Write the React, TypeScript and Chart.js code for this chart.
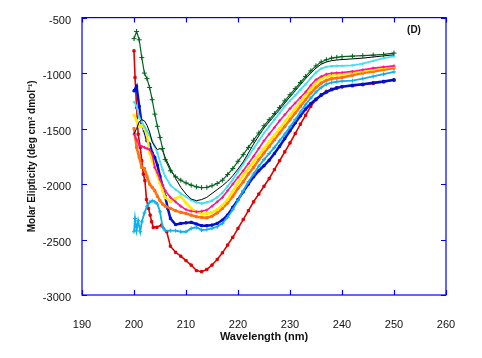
import React, { useEffect, useRef } from "react";
import { Chart, registerables } from "chart.js";

Chart.register(...registerables);

// Common 1-nm wavelength grid used by every series from 207 nm onward
const COMMON_WL = [
  207, 208, 209, 210, 211, 212, 213, 214, 215, 216, 217, 218, 219, 220, 221, 222, 223, 224,
  225, 226, 227, 228, 229, 230, 231, 232, 233, 234, 235, 236, 237, 238, 239, 240, 242, 244,
  246, 248, 250,
];
const HALF_WL = [200, 200.5, 201, 201.5, 202, 202.5, 203, 203.5, 204, 204.5, 205, 205.5, 206];

const X_TICKS = [190, 200, 210, 220, 230, 240, 250, 260];
const Y_TICKS = [-3000, -2500, -2000, -1500, -1000, -500];

// Dark green
const greenLeftWl = HALF_WL;
const greenLeft = [-690, -625, -700, -860, -1000, -1050, -1130, -1240, -1370, -1480, -1580, -1680, -1780];
const greenRight = [
  -1880, -1935, -1965, -1990, -2010, -2025, -2032, -2030, -2015, -1995, -1965, -1915, -1860, -1795,
  -1735, -1670, -1605, -1540, -1475, -1420, -1365, -1310, -1250, -1195, -1140, -1085, -1030, -980,
  -935, -900, -880, -865, -858, -852, -848, -843, -838, -832, -820,
];

// Black
const blackLeftWl = HALF_WL;
const blackLeft = [-1550, -1500, -1440, -1420, -1430, -1470, -1530, -1620, -1660, -1690, -1680, -1700, -1760];
const blackRight = [
  -1860, -1950, -2030, -2090, -2135, -2150, -2140, -2120, -2085, -2050, -2015, -1975, -1925, -1865,
  -1800, -1720, -1640, -1565, -1495, -1440, -1385, -1330, -1270, -1215, -1160, -1105, -1050, -1000,
  -955, -920, -900, -888, -882, -878, -872, -865, -855, -845, -835,
];

// Turquoise
const cyanLeftWl = HALF_WL;
const cyanLeft = [-1260, -1300, -1400, -1440, -1480, -1520, -1560, -1610, -1660, -1720, -1800, -1870, -1930];
const cyanRight = [
  -2010, -2050, -2085, -2115, -2145, -2165, -2175, -2165, -2150, -2120, -2080, -2020, -1960, -1890,
  -1820, -1750, -1680, -1610, -1540, -1480, -1420, -1360, -1300, -1250, -1200, -1150, -1100, -1045,
  -995, -960, -945, -938, -935, -935, -930, -915, -890, -865, -850,
];

// Magenta
const pinkLeftWl = HALF_WL;
const pinkLeft = [-1550, -1600, -1650, -1660, -1670, -1680, -1690, -1730, -1850, -1900, -1960, -2010, -2060];
const pinkRight = [
  -2120, -2160, -2200, -2230, -2245, -2250, -2245, -2235, -2200, -2160, -2120, -2060, -2000, -1940,
  -1880, -1815, -1750, -1680, -1610, -1550, -1490, -1430, -1375, -1320, -1270, -1220, -1170, -1110,
  -1060, -1030, -1010, -1002, -998, -995, -985, -970, -955, -945, -935,
];

// Yellow
const yellowLeftWl = HALF_WL;
const yellowLeft = [-1380, -1430, -1480, -1470, -1500, -1560, -1720, -1790, -1850, -1920, -1990, -2060, -2120];
const yellowRight = [
  -2160, -2130, -2110, -2170, -2220, -2250, -2265, -2268, -2255, -2230, -2190, -2140, -2065, -1990,
  -1920, -1860, -1800, -1740, -1680, -1620, -1560, -1500, -1440, -1380, -1320, -1260, -1200, -1140,
  -1090, -1050, -1030, -1020, -1015, -1010, -995, -980, -965, -950, -940,
];

// Orange
const orangeLeftWl = HALF_WL;
const orangeLeft = [-1500, -1670, -1760, -1850, -1860, -1930, -2000, -2030, -2060, -2110, -2150, -2180, -2200];
const orangeRight = [
  -2220, -2240, -2255, -2265, -2280, -2295, -2300, -2305, -2290, -2260, -2220, -2170, -2110, -2040,
  -1980, -1910, -1850, -1780, -1720, -1660, -1600, -1540, -1480, -1420, -1360, -1300, -1240, -1180,
  -1130, -1090, -1065, -1052, -1045, -1040, -1020, -1000, -985, -970, -955,
];

// Sky blue
const skyLeftWl = [200, 200.2, 200.5, 200.8, 201.2, 201.5, 202, 202.5, 203, 203.5, 204, 204.5, 205, 205.5, 206];
const skyLeft = [-2430, -2310, -2420, -2330, -2430, -2340, -2260, -2200, -2165, -2150, -2160, -2180, -2250, -2390, -2420];
const skyRight = [
  -2420, -2420, -2430, -2430, -2400, -2390, -2415, -2410, -2400, -2385, -2355, -2300, -2230, -2150,
  -2060, -1980, -1910, -1840, -1780, -1725, -1670, -1610, -1550, -1485, -1420, -1350, -1285, -1225,
  -1170, -1130, -1100, -1085, -1078, -1073, -1068, -1050, -1030, -1010, -990,
];

// Blue
const blueLeftWl = [200, 200.5, 201, 201.5, 202, 202.5, 203, 203.5, 204, 204.5, 205, 205.5, 206, 206.5];
const blueLeft = [-1160, -1120, -1300, -1460, -1520, -1610, -1640, -1720, -1760, -1830, -1930, -2020, -2110, -2220];
const blueRight = [
  -2310, -2365, -2355, -2350, -2345, -2360, -2375, -2375, -2370, -2355, -2325, -2280, -2210, -2140,
  -2070, -2000, -1935, -1880, -1835, -1785, -1725, -1660, -1590, -1520, -1450, -1385, -1325, -1275,
  -1235, -1200, -1172, -1150, -1135, -1122, -1110, -1100, -1088, -1075, -1060,
];

// Red
const redLeftWl = [200, 200.2, 200.5, 200.8, 201.2, 201.5, 201.8, 202.1, 202.4, 202.8, 203.1, 203.4, 203.7, 204.4, 205.3, 206.3];
const redLeft = [-800, -1040, -1310, -1550, -1670, -1790, -1910, -1970, -2140, -2220, -2280, -2340, -2390, -2390, -2370, -2430];
const redRight = [
  -2560, -2615, -2650, -2690, -2730, -2780, -2790, -2770, -2730, -2680, -2620, -2550, -2480, -2400,
  -2320, -2240, -2160, -2090, -2020, -1950, -1870, -1790, -1710, -1630, -1545, -1460, -1380, -1300,
  -1240, -1195, -1165, -1145, -1132, -1125, -1115, -1105, -1093, -1080, -1065,
];

const FONT = "'Liberation Sans', Arial, sans-serif";

function build(leftWl: number[], left: number[], right: number[]) {
  const a = leftWl.map((x, i) => ({ x, y: left[i] }));
  const b = COMMON_WL.map((x, i) => ({ x, y: right[i] }));
  return a.concat(b);
}

function series(label: string, color: string, width: number, style: any, radius: number, pts: any[]) {
  return {
    label,
    data: pts,
    borderColor: color,
    backgroundColor: color,
    borderWidth: width,
    pointStyle: style,
    pointRadius: radius,
    pointBorderWidth: 1,
    pointBorderColor: color,
    pointBackgroundColor: color,
    tension: 0,
    fill: false,
  };
}

const framePlugin = {
  id: "frame",
  afterDraw(chart: any) {
    const { ctx, chartArea } = chart;
    const { left, right, top, bottom } = chartArea;
    const xs = chart.scales.x;
    const ys = chart.scales.y;
    ctx.save();
    ctx.strokeStyle = "#0000ee";
    ctx.lineWidth = 1.2;
    ctx.strokeRect(left, top, right - left, bottom - top);
    ctx.beginPath();
    X_TICKS.forEach((v) => {
      const px = Math.round(xs.getPixelForValue(v)) + 0.5;
      ctx.moveTo(px, bottom);
      ctx.lineTo(px, bottom - 5);
      ctx.moveTo(px, top);
      ctx.lineTo(px, top + 5);
    });
    Y_TICKS.forEach((v) => {
      const py = Math.round(ys.getPixelForValue(v)) + 0.5;
      ctx.moveTo(left, py);
      ctx.lineTo(left + 5, py);
      ctx.moveTo(right, py);
      ctx.lineTo(right - 5, py);
    });
    ctx.stroke();
    ctx.fillStyle = "#111";
    ctx.font = "bold 10px " + FONT;
    ctx.textAlign = "center";
    ctx.textBaseline = "middle";
    ctx.fillText("(D)", 414, 30);
    ctx.restore();
  },
};

export default function App() {
  const ref = useRef<HTMLCanvasElement | null>(null);
  useEffect(() => {
    if (!ref.current) return;
    const chart = new Chart(ref.current, {
      type: "line",
      data: {
        datasets: [
          series("A", "#00631f", 1.2, "cross", 2.5, build(greenLeftWl, greenLeft, greenRight)),
          series("B", "#000000", 1, "circle", 0, build(blackLeftWl, blackLeft, blackRight)),
          series("C", "#44e0f2", 1.8, "rect", 1, build(cyanLeftWl, cyanLeft, cyanRight)),
          series("D", "#ff1493", 1.6, "cross", 1.5, build(pinkLeftWl, pinkLeft, pinkRight)),
          series("E", "#ffee00", 2.5, "rect", 1.5, build(yellowLeftWl, yellowLeft, yellowRight)),
          series("F", "#ff7010", 2.5, "rect", 1.5, build(orangeLeftWl, orangeLeft, orangeRight)),
          series("G", "#10b0ea", 1.8, "cross", 2, build(skyLeftWl, skyLeft, skyRight)),
          series("H", "#0010d0", 2.5, "rect", 1.5, build(blueLeftWl, blueLeft, blueRight)),
          series("I", "#e00000", 1.6, "rect", 1.6, build(redLeftWl, redLeft, redRight)),
        ],
      },
      options: {
        responsive: false,
        animation: false,
        layout: { padding: { top: 16, right: 36, left: 0, bottom: 0 } },
        plugins: { legend: { display: false }, tooltip: { enabled: false } },
        scales: {
          x: {
            type: "linear",
            min: 190,
            max: 260,
            grid: { display: false, drawTicks: false },
            border: { display: false },
            ticks: {
              stepSize: 10,
              autoSkip: false,
              maxRotation: 0,
              padding: 23,
              color: "#111",
              font: { family: FONT, size: 11 },
              callback: (v: any) => String(v),
            },
            title: {
              display: true,
              text: "Wavelength (nm)",
              color: "#111",
              font: { family: FONT, size: 11, weight: "bold" },
              padding: { top: 0, bottom: 14 },
            },
            afterFit: (s: any) => {
              s.height = 63;
            },
          },
          y: {
            type: "linear",
            min: -3000,
            max: -500,
            grid: { display: false, drawTicks: false },
            border: { display: false },
            ticks: {
              stepSize: 500,
              autoSkip: false,
              padding: 11,
              labelOffset: 3,
              color: "#111",
              font: { family: FONT, size: 11 },
              callback: (v: any) => String(v),
            },
            title: {
              display: true,
              text: "Molar Elipticity (deg cm² dmol⁻¹)",
              color: "#111",
              font: { family: FONT, size: 10, weight: "bold" },
              padding: { top: 26, bottom: 0 },
            },
            afterFit: (s: any) => {
              s.width = 82;
            },
          },
        },
      },
      plugins: [framePlugin],
    });
    return () => chart.destroy();
  }, []);
  return (
    <div style={{ position: "fixed", left: 0, top: 0, width: 482, height: 358, background: "#fff" }}>
      <canvas ref={ref} width={482} height={358} style={{ display: "block" }} />
    </div>
  );
}
